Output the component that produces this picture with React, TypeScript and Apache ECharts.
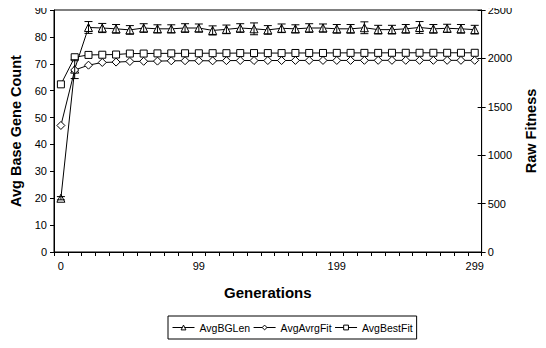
import React, { useEffect, useRef } from "react";
import * as echarts from "echarts";

const generations = ["0","9","19","29","39","49","59","69","79","89","99","109","119","129","139","149","159","169","179","189","199","209","219","229","239","249","259","269","279","289","299"];
const avgBGLen = [20, 68, 83.5, 83.3, 83.0, 82.6, 83.3, 83.0, 83.0, 83.3, 83.3, 82.4, 82.8, 83.3, 83.0, 82.6, 83.2, 83.0, 83.3, 83.3, 83.0, 83.0, 83.4, 82.7, 82.7, 83.0, 83.5, 83.0, 83.2, 83.0, 82.7];
const avgBGLenErr = [0.6, 3.5, 2.2, 1.7, 1.6, 1.6, 1.6, 1.5, 1.5, 1.6, 1.5, 1.7, 1.6, 1.6, 2.2, 1.6, 1.6, 1.5, 1.6, 1.5, 1.6, 1.6, 2.2, 1.6, 1.6, 1.6, 2.2, 1.6, 1.5, 1.6, 1.6];
const avgAvrgFit = [1307, 1880, 1930, 1958, 1962, 1968, 1970, 1972, 1975, 1976, 1976, 1975, 1977, 1978, 1978, 1978, 1978, 1979, 1979, 1979, 1979, 1979, 1980, 1980, 1980, 1980, 1980, 1980, 1980, 1980, 1980];
const avgBestFit = [1732, 2012, 2036, 2038, 2040, 2050, 2050, 2052, 2052, 2053, 2053, 2054, 2054, 2055, 2055, 2055, 2055, 2056, 2056, 2056, 2057, 2057, 2057, 2057, 2058, 2058, 2058, 2058, 2058, 2058, 2058];
const leftTicks = { min: 0, max: 90, interval: 10 };
const rightTicks = { min: 0, max: 2500, interval: 500 };

const FONT = "Liberation Sans, Arial, sans-serif";
const TITLE = { fontSize: 14.5, fontWeight: "bold", color: "#000", fontFamily: FONT };

export default function App() {
  const ref = useRef<HTMLDivElement>(null);
  useEffect(() => {
    if (!ref.current) return;
    const chart = echarts.init(ref.current, undefined, { renderer: "svg" });
    const errData = avgBGLen.map((v, i) => [i, v - avgBGLenErr[i], v + avgBGLenErr[i]]);
    const lineStyle = { color: "#000", width: 1 };
    chart.setOption({
      animation: false,
      backgroundColor: "#fff",
      textStyle: { fontFamily: FONT },
      grid: {
        left: 53, right: 56, top: 10, bottom: 96,
        show: true, borderColor: "#000", borderWidth: 1, backgroundColor: "transparent",
      },
      legend: {
        data: ["AvgBGLen", "AvgAvrgFit", "AvgBestFit"],
        left: 168, top: 316,
        borderColor: "#000", borderWidth: 1, borderRadius: 0,
        padding: [6, 4, 6, 4],
        itemGap: 3, itemWidth: 22, itemHeight: 6,
        itemStyle: { color: "#fff", borderColor: "#000", borderWidth: 1 },
        lineStyle: { color: "#000", width: 1 },
        textStyle: { fontSize: 10.5, color: "#000", fontFamily: FONT },
      },
      xAxis: {
        type: "category",
        data: generations,
        boundaryGap: true,
        name: "Generations",
        nameLocation: "middle",
        nameGap: 33,
        nameTextStyle: { ...TITLE, fontSize: 15 },
        axisLine: { lineStyle: { color: "#000", width: 1 } },
        axisTick: { show: true, interval: 0, length: 4, lineStyle: { color: "#000" } },
        axisLabel: { interval: 9, fontSize: 11, color: "#000", margin: 8, fontFamily: FONT },
        splitLine: { show: false },
      },
      yAxis: [
        {
          type: "value",
          ...leftTicks,
          name: "Avg Base Gene Count",
          nameLocation: "middle",
          nameRotate: 90,
          nameGap: 31,
          nameTextStyle: TITLE,
          axisLine: { show: true, lineStyle: { color: "#000", width: 1 } },
          axisTick: { show: true, length: 4, lineStyle: { color: "#000" } },
          axisLabel: { fontSize: 11, color: "#000", margin: 7, fontFamily: FONT },
          splitLine: { show: false },
        },
        {
          type: "value",
          ...rightTicks,
          position: "right",
          name: "Raw Fitness",
          nameLocation: "middle",
          nameRotate: 90,
          nameGap: 37,
          nameTextStyle: TITLE,
          axisLine: { show: true, lineStyle: { color: "#000", width: 1 } },
          axisTick: { show: true, length: 4, lineStyle: { color: "#000" } },
          axisLabel: { fontSize: 11, color: "#000", margin: 6, fontFamily: FONT, formatter: (v: number) => String(v) },
          splitLine: { show: false },
        },
        {
          type: "value",
          ...rightTicks,
          position: "right",
          axisLine: { show: false },
          axisTick: { show: true, inside: true, length: 4, lineStyle: { color: "#000" } },
          axisLabel: { show: false },
          splitLine: { show: false },
        },
      ],
      series: [
        {
          name: "AvgBGLen",
          type: "line",
          yAxisIndex: 0,
          data: avgBGLen,
          symbol: "triangle",
          symbolSize: 8,
          lineStyle,
          itemStyle: { color: "#fff", borderColor: "#000", borderWidth: 1 },
          z: 3,
        },
        {
          name: "BGLenErr",
          type: "custom",
          yAxisIndex: 0,
          data: errData,
          encode: { x: 0, y: [1, 2] },
          z: 4,
          renderItem: (params: any, api: any) => {
            const i = api.value(0);
            const lo = api.coord([i, api.value(1)]);
            const hi = api.coord([i, api.value(2)]);
            const w = 4;
            const st = { stroke: "#000", lineWidth: 1 };
            return {
              type: "group",
              children: [
                { type: "line", shape: { x1: lo[0], y1: lo[1], x2: hi[0], y2: hi[1] }, style: st },
                { type: "line", shape: { x1: lo[0] - w, y1: lo[1], x2: lo[0] + w, y2: lo[1] }, style: st },
                { type: "line", shape: { x1: hi[0] - w, y1: hi[1], x2: hi[0] + w, y2: hi[1] }, style: st },
              ],
            };
          },
        },
        {
          name: "AvgAvrgFit",
          type: "line",
          yAxisIndex: 1,
          data: avgAvrgFit,
          symbol: "diamond",
          symbolSize: 8,
          lineStyle,
          itemStyle: { color: "#fff", borderColor: "#000", borderWidth: 1 },
          z: 3,
        },
        {
          name: "AvgBestFit",
          type: "line",
          yAxisIndex: 1,
          data: avgBestFit,
          symbol: "rect",
          symbolSize: 7,
          lineStyle,
          itemStyle: { color: "#fff", borderColor: "#000", borderWidth: 1 },
          z: 3,
        },
      ],
    });
    return () => chart.dispose();
  }, []);
  return <div ref={ref} style={{ width: 546, height: 348, margin: -8 }} />;
}
